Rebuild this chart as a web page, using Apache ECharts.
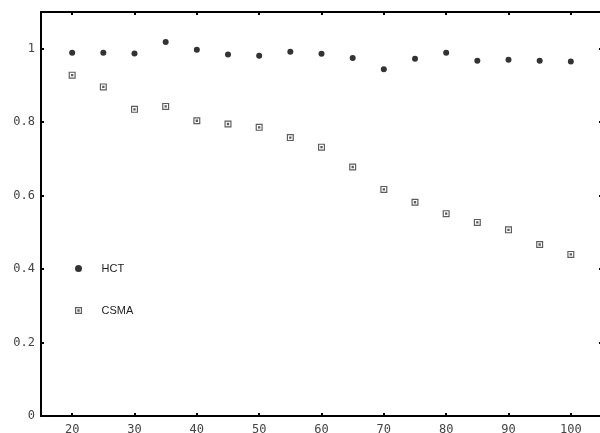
<!DOCTYPE html>
<html>
<head>
<meta charset="utf-8">
<script src="https://cdn.jsdelivr.net/npm/echarts@6/dist/echarts.min.js"></script>
<style>
html,body{margin:0;padding:0;background:#fff;}
#c{width:600px;height:433px;}
</style>
</head>
<body>
<div id="c"></div>
<script>
const xValues = [20,25,30,35,40,45,50,55,60,65,70,75,80,85,90,95,100];
const hct  = [0.989,0.989,0.987,1.018,0.997,0.984,0.981,0.992,0.986,0.975,0.944,0.973,0.989,0.967,0.970,0.967,0.965];
const csma = [0.928,0.896,0.835,0.843,0.804,0.795,0.786,0.758,0.732,0.678,0.617,0.582,0.551,0.527,0.507,0.467,0.440];
const xTicks = [20,30,40,50,60,70,80,90,100];
const yTicks = [0,0.2,0.4,0.6,0.8,1];
const seriesNames = ['HCT','CSMA'];

const sqPath = 'path://M0,0H6V6H0Z M1,1V5H5V1H1Z M2,2H4V4H2Z';

const lineStyle = {color:'#000', width:2};
const labelFont = {fontFamily:'DejaVu Sans Mono', fontSize:12, color:'#444'};

const chart = echarts.init(document.getElementById('c'), null, {renderer:'canvas'});
chart.setOption({
  animation:false,
  backgroundColor:'#fff',
  grid:{left:41, top:12, width:561, height:404, containLabel:false, outerBoundsMode:'none'},
  legend:{
    orient:'vertical', left:70, top:258, itemGap:31,
    itemWidth:8, itemHeight:7,
    textStyle:{fontFamily:'Liberation Sans', fontSize:11, color:'#222', padding:[0,0,0,14]},
    data:[
      {name:seriesNames[0], icon:'circle', itemStyle:{color:'#000'}},
      {name:seriesNames[1], icon:sqPath, itemStyle:{color:'#333'}}
    ]
  },
  xAxis:[
    {type:'value', min:15, max:105, position:'bottom',
     axisLine:{show:true, onZero:false, lineStyle},
     axisTick:{show:true, inside:true, length:3, customValues:xTicks, lineStyle:{color:'#000',width:2}},
     axisLabel:{show:true, customValues:xTicks, margin:8, ...labelFont},
     splitLine:{show:false}},
    {type:'value', min:15, max:105, position:'top',
     axisLine:{show:true, onZero:false, lineStyle},
     axisTick:{show:true, inside:true, length:3, customValues:xTicks, lineStyle:{color:'#000',width:2}},
     axisLabel:{show:false},
     splitLine:{show:false}}
  ],
  yAxis:[
    {type:'value', min:0, max:1.1, position:'left',
     axisLine:{show:true, onZero:false, lineStyle},
     axisTick:{show:true, inside:true, length:3, customValues:yTicks, lineStyle:{color:'#000',width:2}},
     axisLabel:{show:true, customValues:yTicks, margin:6, ...labelFont,
       formatter:v=>String(+v.toFixed(1))},
     splitLine:{show:false}},
    {type:'value', min:0, max:1.1, position:'right',
     axisLine:{show:true, onZero:false, lineStyle},
     axisTick:{show:true, inside:true, length:3, customValues:yTicks, lineStyle:{color:'#000',width:2}},
     axisLabel:{show:false},
     splitLine:{show:false}}
  ],
  series:[
    {name:seriesNames[0], type:'scatter', xAxisIndex:0, yAxisIndex:0,
     symbol:'circle', symbolSize:6, itemStyle:{color:'#000'},
     data:xValues.map((x,i)=>[x,hct[i]])},
    {name:seriesNames[1], type:'scatter', xAxisIndex:0, yAxisIndex:0,
     symbol:sqPath, symbolSize:7, itemStyle:{color:'#333'},
     data:xValues.map((x,i)=>[x,csma[i]])}
  ]
});
</script>
</body>
</html>
